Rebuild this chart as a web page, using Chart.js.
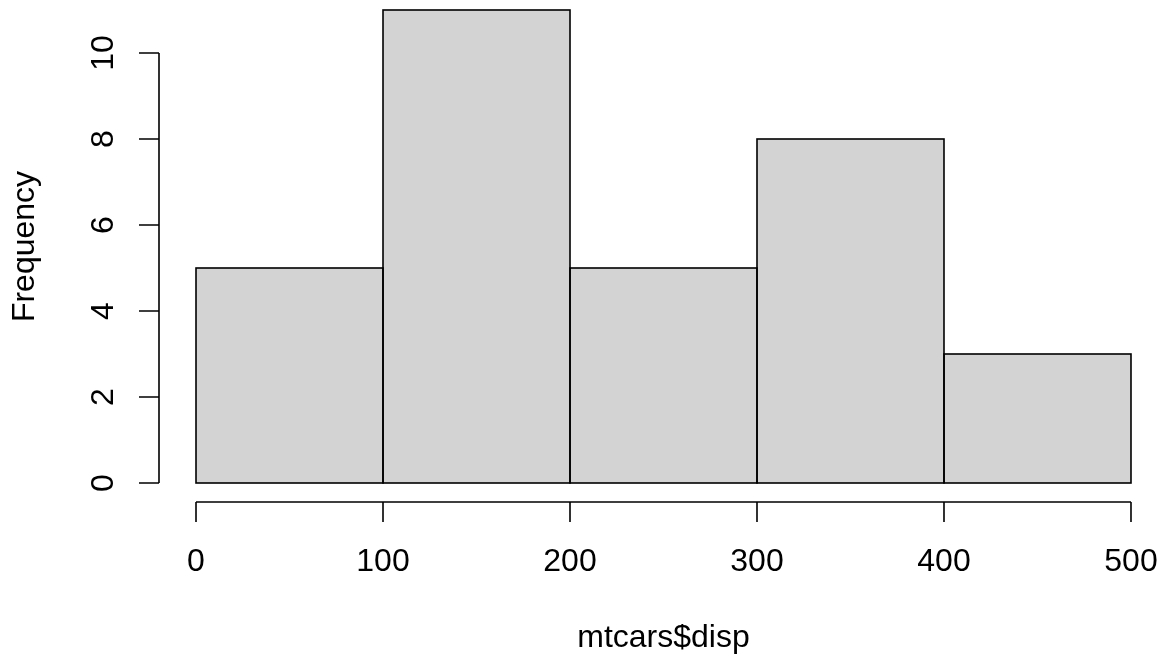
<!DOCTYPE html>
<html>
<head>
<meta charset="utf-8">
<title>Histogram of mtcars$disp</title>
<script src="https://cdn.jsdelivr.net/npm/chart.js@4/dist/chart.umd.min.js"></script>
<style>
  html, body { margin: 0; padding: 0; background: #ffffff; overflow: hidden; }
  canvas { display: block; }
</style>
</head>
<body>
<canvas id="hist" width="1166" height="660"></canvas>
<script>
// Histogram of engine displacement (cu.in.)
const breaks = [0, 100, 200, 300, 400, 500];
const counts = [5, 11, 5, 8, 3];
const xTicks = [0, 100, 200, 300, 400, 500];
const yTicks = [0, 2, 4, 6, 8, 10];
const xTitle = 'mtcars$disp';
const yTitle = 'Frequency';

const FONT = '32px "Liberation Sans", Arial, Helvetica, sans-serif';
const LINE = 1.6;

// one bar per bin, centred between its breaks
const bins = counts.map((c, i) => ({ x: (breaks[i] + breaks[i + 1]) / 2, y: c }));

// Outlines, detached axes and titles in the style of a base-graphics plot
const baseAxes = {
  id: 'baseAxes',
  afterDatasetsDraw(chart) {
    const ctx = chart.ctx;
    const xs = chart.scales.x, ys = chart.scales.y;
    const area = chart.chartArea;
    ctx.save();
    ctx.strokeStyle = '#000000';
    ctx.fillStyle = '#000000';
    ctx.lineWidth = LINE;
    ctx.lineCap = 'butt';

    // bar outlines (centred on the bin edges so shared edges stay single)
    chart.getDatasetMeta(0).data.forEach(bar => {
      const p = bar.getProps(['x', 'y', 'base', 'width'], true);
      ctx.strokeRect(p.x - p.width / 2, p.y, p.width, p.base - p.y);
    });

    const tick = 20;
    // x axis
    const ax = area.bottom;
    ctx.beginPath();
    ctx.moveTo(xs.getPixelForValue(xTicks[0]), ax);
    ctx.lineTo(xs.getPixelForValue(xTicks[xTicks.length - 1]), ax);
    xTicks.forEach(v => {
      const px = xs.getPixelForValue(v);
      ctx.moveTo(px, ax);
      ctx.lineTo(px, ax + tick);
    });
    ctx.stroke();

    // y axis
    const ay = area.left;
    ctx.beginPath();
    ctx.moveTo(ay, ys.getPixelForValue(yTicks[0]));
    ctx.lineTo(ay, ys.getPixelForValue(yTicks[yTicks.length - 1]));
    yTicks.forEach(v => {
      const py = ys.getPixelForValue(v);
      ctx.moveTo(ay, py);
      ctx.lineTo(ay - tick, py);
    });
    ctx.stroke();

    ctx.font = FONT;
    ctx.textAlign = 'center';
    ctx.textBaseline = 'alphabetic';

    // x tick labels
    xTicks.forEach(v => {
      ctx.fillText(String(v), xs.getPixelForValue(v), ax + 69);
    });

    // y tick labels, parallel to the axis
    yTicks.forEach(v => {
      ctx.save();
      ctx.translate(ay - 46, ys.getPixelForValue(v));
      ctx.rotate(-Math.PI / 2);
      ctx.fillText(String(v), 0, 0);
      ctx.restore();
    });

    // axis titles, centred on the data range
    const xMid = (breaks[0] + breaks[breaks.length - 1]) / 2;
    const yMid = Math.max(...counts) / 2;
    ctx.fillText(xTitle, xs.getPixelForValue(xMid), ax + 145);
    ctx.save();
    ctx.translate(ay - 125, ys.getPixelForValue(yMid));
    ctx.rotate(-Math.PI / 2);
    ctx.fillText(yTitle, 0, 0);
    ctx.restore();

    ctx.restore();
  }
};

new Chart(document.getElementById('hist'), {
  type: 'bar',
  data: {
    datasets: [{
      data: bins,
      backgroundColor: '#D3D3D3',
      borderWidth: 0,
      inflateAmount: 0,
      barPercentage: 1,
      categoryPercentage: 1
    }]
  },
  options: {
    responsive: false,
    animation: false,
    devicePixelRatio: 1,
    layout: { padding: { left: 159, right: 0, top: 0, bottom: 158 } },
    plugins: { legend: { display: false }, tooltip: { enabled: false } },
    scales: {
      x: { type: 'linear', offset: false, min: -19.79, max: 518.72, display: false },
      y: { type: 'linear', min: -0.4419, max: 11.2326, display: false }
    }
  },
  plugins: [baseAxes]
});
</script>
</body>
</html>
